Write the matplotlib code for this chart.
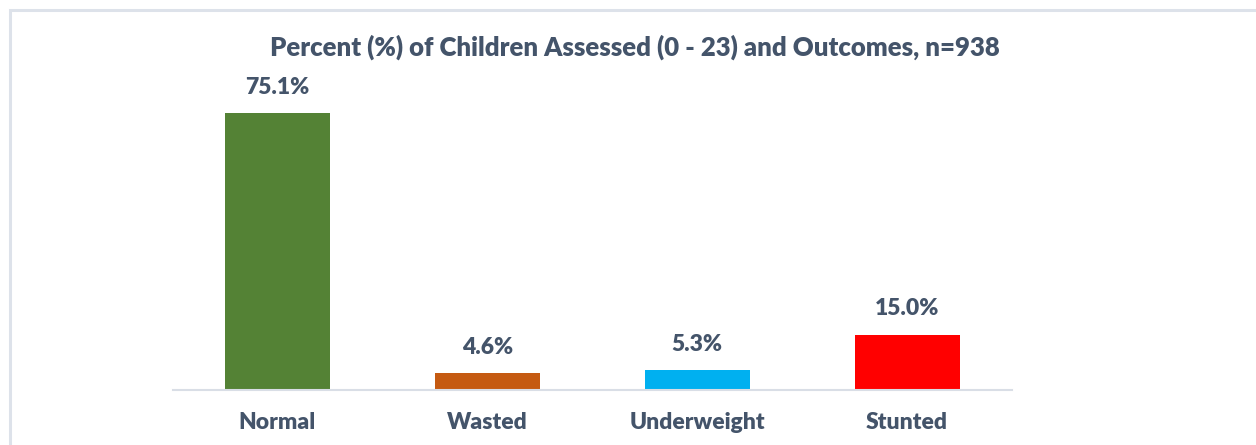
import matplotlib
matplotlib.use("Agg")
import matplotlib.pyplot as plt
from matplotlib.patches import Rectangle

categories = ["Normal", "Wasted", "Underweight", "Stunted"]
percents = [75.1, 4.6, 5.3, 15.0]
bar_colors = ["#548235", "#C55A11", "#00B0F0", "#FF0000"]
title = "Percent (%) of Children Assessed (0 - 23) and Outcomes, n=938"

text_color = "#44546A"
plt.rcParams["font.family"] = ["Lato", "DejaVu Sans"]

W, H = 1256, 445
fig = plt.figure(figsize=(W / 100, H / 100), dpi=100)

# outer frame (only top and left edges visible in the original)
fig.patches.append(Rectangle((9.5 / W, -0.1), 1.2, 1 - 9.5 / H + 0.1,
                             transform=fig.transFigure, fill=False,
                             edgecolor="#DDE2EA", linewidth=2.2))

ax = fig.add_axes([172.5 / W, 55 / H, 839.5 / W, 295.2 / H])
x = range(len(categories))
bars = ax.bar(x, percents, width=0.5, color=bar_colors)
ax.set_xlim(-0.5, len(categories) - 0.5)
ax.set_ylim(0, 80)

for b, v in zip(bars, percents):
    ax.annotate(f"{v:.1f}%", (b.get_x() + b.get_width() / 2, v),
                xytext=(0, 18.5), textcoords="offset points",
                ha="center", va="center", fontsize=16.5,
                fontweight="heavy", color=text_color)

ax.set_xticks(list(x))
ax.set_xticklabels(categories, fontsize=16.5, fontweight="heavy", color=text_color)
ax.tick_params(axis="x", length=0, pad=16)
ax.set_yticks([])
for s in ["top", "right", "left"]:
    ax.spines[s].set_visible(False)
ax.spines["bottom"].set_color("#D9DEE6")
ax.spines["bottom"].set_linewidth(1.5)

fig.text(635 / W, 1 - 47 / H, title, ha="center", va="center",
         fontsize=18.5, fontweight="heavy", color=text_color)

fig.savefig("out.png", dpi=100)
